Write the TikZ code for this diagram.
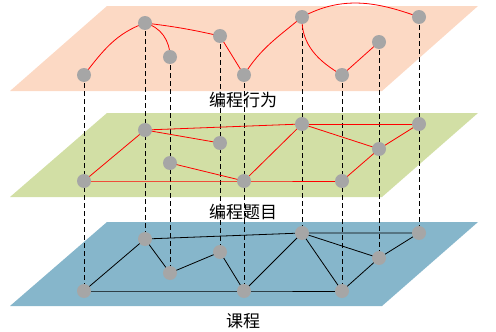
\documentclass[tikz,border=0pt]{standalone}
\usepackage{fontspec}
\setmainfont{Noto Sans CJK SC}
\usetikzlibrary{backgrounds}

\definecolor{peach}{HTML}{FCD9C4}
\definecolor{leaf}{HTML}{D2DFA5}
\definecolor{lake}{HTML}{86B6CB}
\definecolor{dot}{HTML}{A6A6A6}

\begin{document}
\begin{tikzpicture}[x=1pt,y=-1pt,
  vertex/.style={circle,fill=dot,minimum size=14pt,inner sep=0pt},
  link/.style={line width=0.8pt},
  redlink/.style={link,red},
  drop/.style={line width=0.7pt,dash pattern=on 5pt off 3pt},
  title/.style={font=\fontsize{17}{20}\selectfont}
]
  \useasboundingbox (0,0) rectangle (496,332);
  % nodes of the three layers
  \foreach \n/\x/\ya/\yb/\yc in {a/84/75/181/291,b/145/23/130/239,c/170/57/163/273,
      d/220/36/143/252,e/244/75/181/291,f/302/17/124/233,g/342/75/181/291,
      h/379/42/149/258,i/419/17/124/233}{
    \node[vertex] (t\n) at (\x,\ya) {};
    \node[vertex] (m\n) at (\x,\yb) {};
    \node[vertex] (b\n) at (\x,\yc) {};
  }
  \node[title] (toplabel) at (243,100) {编程行为};
  \node[title] (midlabel) at (243,212) {编程题目};
  \node[title] (botlabel) at (243,321) {课程};

  \begin{scope}[on background layer]
    \fill[peach] (107,6) -- (478,6) -- (382,91) -- (10,91) -- cycle;
    \fill[leaf] (107,113) -- (478,113) -- (382,197) -- (10,197) -- cycle;
    \fill[lake] (107,222) -- (478,222) -- (382,306) -- (10,306) -- cycle;
    % vertical links
    \foreach \n in {a,b,c,d,e,f,g,h,i}
      \draw[drop] (t\n.center) -- (b\n.center);
    % top layer
    \draw[redlink] (ta.center) to[out=52,in=200] (tb.center);
    \draw[redlink] (tb.center) to[out=-15,in=90] (tc.center);
    \draw[redlink] (tb.center) to[bend left=3] (td.center);
    \draw[redlink] (td.center) -- (te.center);
    \draw[redlink] (te.center) to[out=58,in=220] (tf.center);
    \draw[redlink] (tf.center) to[out=28,in=160] (ti.center);
    \draw[redlink] (tf.center) to[out=-92,in=150] (tg.center);
    \draw[redlink] (tg.center) -- (th.center);
    % middle layer
    \draw[redlink] (ma.center) -- (mb.center);
    \draw[redlink] (mb.center) -- (mf.center);
    \draw[redlink] (mb.center) -- (md.center);
    \draw[redlink] (mc.center) -- (me.center);
    \draw[redlink] (ma.center) -- (me.center) -- (mg.center);
    \draw[redlink] (me.center) -- (mf.center);
    \draw[redlink] (mf.center) -- (mi.center);
    \draw[redlink] (mf.center) -- (mh.center) -- (mi.center);
    \draw[redlink] (mg.center) -- (mh.center);
    % bottom layer
    \draw[link] (ba.center) -- (bb.center) -- (bf.center) -- (bi.center);
    \draw[link] (bb.center) -- (bc.center) -- (bd.center) -- (be.center);
    \draw[link] (ba.center) -- (be.center) -- (bg.center);
    \draw[link] (be.center) -- (bf.center) -- (bg.center);
    \draw[link] (bf.center) -- (bh.center) -- (bi.center);
    \draw[link] (bg.center) -- (bh.center);
  \end{scope}
\end{tikzpicture}
\end{document}
